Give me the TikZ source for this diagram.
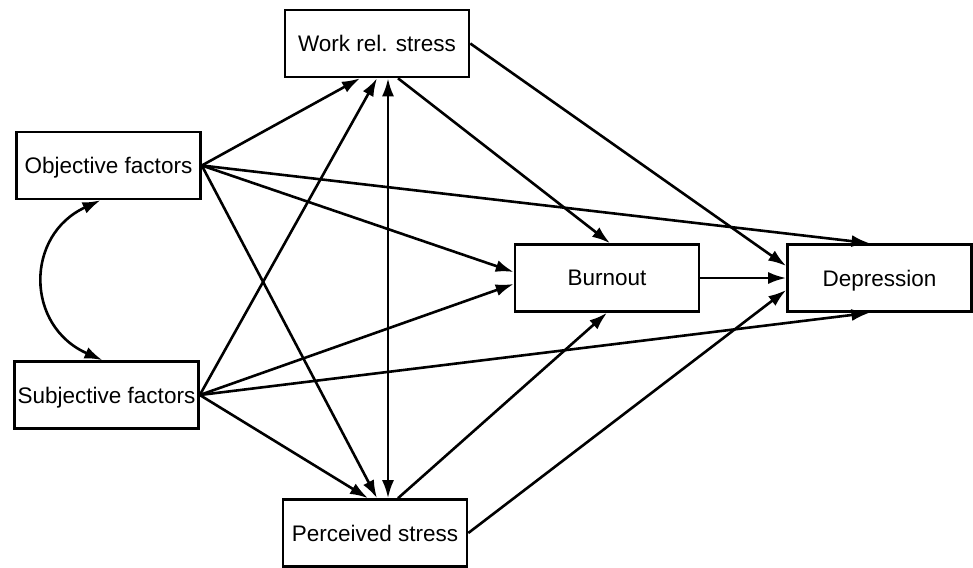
\documentclass[tikz,border=0pt]{standalone}
\usepackage{fontspec}
\setmainfont{Liberation Sans}
\usetikzlibrary{arrows.meta,calc}
\begin{document}
\begin{tikzpicture}[x=1pt,y=-1pt,
 box/.style={draw,line width=2.6pt,minimum width=184pt,minimum height=67pt,inner sep=0pt,text depth=0pt,font=\fontsize{22.5}{26}\selectfont},
 arr/.style={line width=2.6pt,-{Latex[length=18pt,width=12pt]}},
 darr/.style={line width=2.6pt,{Latex[length=18pt,width=12pt]}-{Latex[length=18pt,width=12pt]}}]
\useasboundingbox (0,0) rectangle (973,567);
\node[box] (obj) at (108.5,165.5) {Objective factors};
\node[box] (subj) at (106.5,395) {Subjective factors};
\node[box] (work) at (377,43.5) {Work rel. stress};
\node[box] (perc) at (375,533) {Perceived stress};
\node[box] (burn) at (607,278) {Burnout};
\node[box] (dep) at (879.5,278) {Depression};
% from objective factors
\draw[arr] (obj.east) -- ($(work.south)+(-17,0)$);
\draw[arr] (obj.east) -- ($(dep.north)+(-10,0)$);
\draw[arr] (obj.east) -- ($(burn.west)+(0,-6)$);
\draw[arr] (obj.east) -- ($(perc.north)+(2,0)$);
% from subjective factors
\draw[arr] (subj.east) -- (work.south);
\draw[arr] (subj.east) -- ($(burn.west)+(0,6)$);
\draw[arr] (subj.east) -- ($(dep.south)+(-10,0)$);
\draw[arr] (subj.east) -- ($(perc.north)+(-7,0)$);
% stresses
\draw[darr] ($(work.south)+(11,0)$) -- ($(perc.north)+(13,0)$);
\draw[arr] ($(work.south)+(21,0)$) -- ($(burn.north)+(3,0)$);
\draw[arr] (work.east) -- ($(dep.west)+(0,-12)$);
\draw[arr] ($(perc.north)+(23,0)$) -- (burn.south);
\draw[arr] (perc.east) -- ($(dep.west)+(0,12)$);
% burnout to depression
\draw[arr] (burn.east) -- (dep.west);
% correlation
\draw[darr] ($(obj.south)+(-8,0)$) .. controls (25,235) and (25,326) .. ($(subj.north)+(-4,0)$);
\end{tikzpicture}
\end{document}
